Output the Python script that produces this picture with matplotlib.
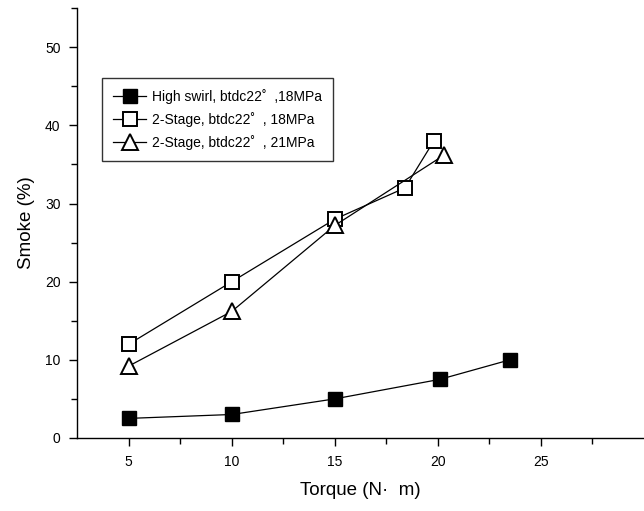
import matplotlib.pyplot as plt
from matplotlib.ticker import MultipleLocator

plt.rcParams['font.family'] = ['Liberation Sans', 'DejaVu Sans']

# Data
torque_hs = [5, 10, 15, 20.1, 23.5]
smoke_hs = [2.5, 3.0, 5.0, 7.5, 10.0]

torque_2s18 = [5, 10, 15, 18.4, 19.8]
smoke_2s18 = [12, 20, 28, 32, 38]

torque_2s21 = [5, 10, 15, 20.3]
smoke_2s21 = [9.2, 16.2, 27.2, 36.2]

labels = ["High swirl, btdc22\u02da  ,18MPa",
          "2-Stage, btdc22\u02da  , 18MPa",
          "2-Stage, btdc22\u02da  , 21MPa"]

fig = plt.figure(figsize=(6.44, 5.11), dpi=100)
ax = fig.add_axes([0.12, 0.143, 0.88, 0.841])

ax.plot(torque_hs, smoke_hs, color='black', lw=0.9, marker='s', ms=9.5,
        mfc='black', mec='black', label=labels[0])
ax.plot(torque_2s18, smoke_2s18, color='black', lw=0.9, marker='s', ms=9.5,
        mfc='white', mec='black', mew=1.4, label=labels[1])
ax.plot(torque_2s21, smoke_2s21, color='black', lw=0.9, marker='^', ms=11,
        mfc='white', mec='black', mew=1.4, label=labels[2])

ax.set_xlim(2.5, 30)
ax.set_ylim(0, 55)
ax.set_xticks([5, 10, 15, 20, 25])
ax.set_xticks([7.5, 12.5, 17.5, 22.5, 27.5], minor=True)
ax.yaxis.set_major_locator(MultipleLocator(10))
ax.yaxis.set_minor_locator(MultipleLocator(5))

for s in ['top', 'right']:
    ax.spines[s].set_visible(False)
for s in ['left', 'bottom']:
    ax.spines[s].set_linewidth(1.0)

ax.tick_params(which='major', direction='out', length=6, width=1.0,
               labelsize=10, pad=6)
ax.tick_params(which='minor', direction='out', length=4, width=1.0)

ax.set_xlabel("Torque (N\u00b7  m)", fontsize=13.5, labelpad=10)
ax.set_ylabel("Smoke (%)", fontsize=13.5, labelpad=7)

leg = ax.legend(loc='upper left', bbox_to_anchor=(0.158, 0.847),
                bbox_transform=fig.transFigure, fontsize=10, frameon=True,
                fancybox=False, edgecolor='black', handlelength=2.4,
                handletextpad=0.4, borderpad=0.8, labelspacing=0.55,
                borderaxespad=0)
leg.get_frame().set_linewidth(1.0)

fig.savefig("out.png", dpi=100)
